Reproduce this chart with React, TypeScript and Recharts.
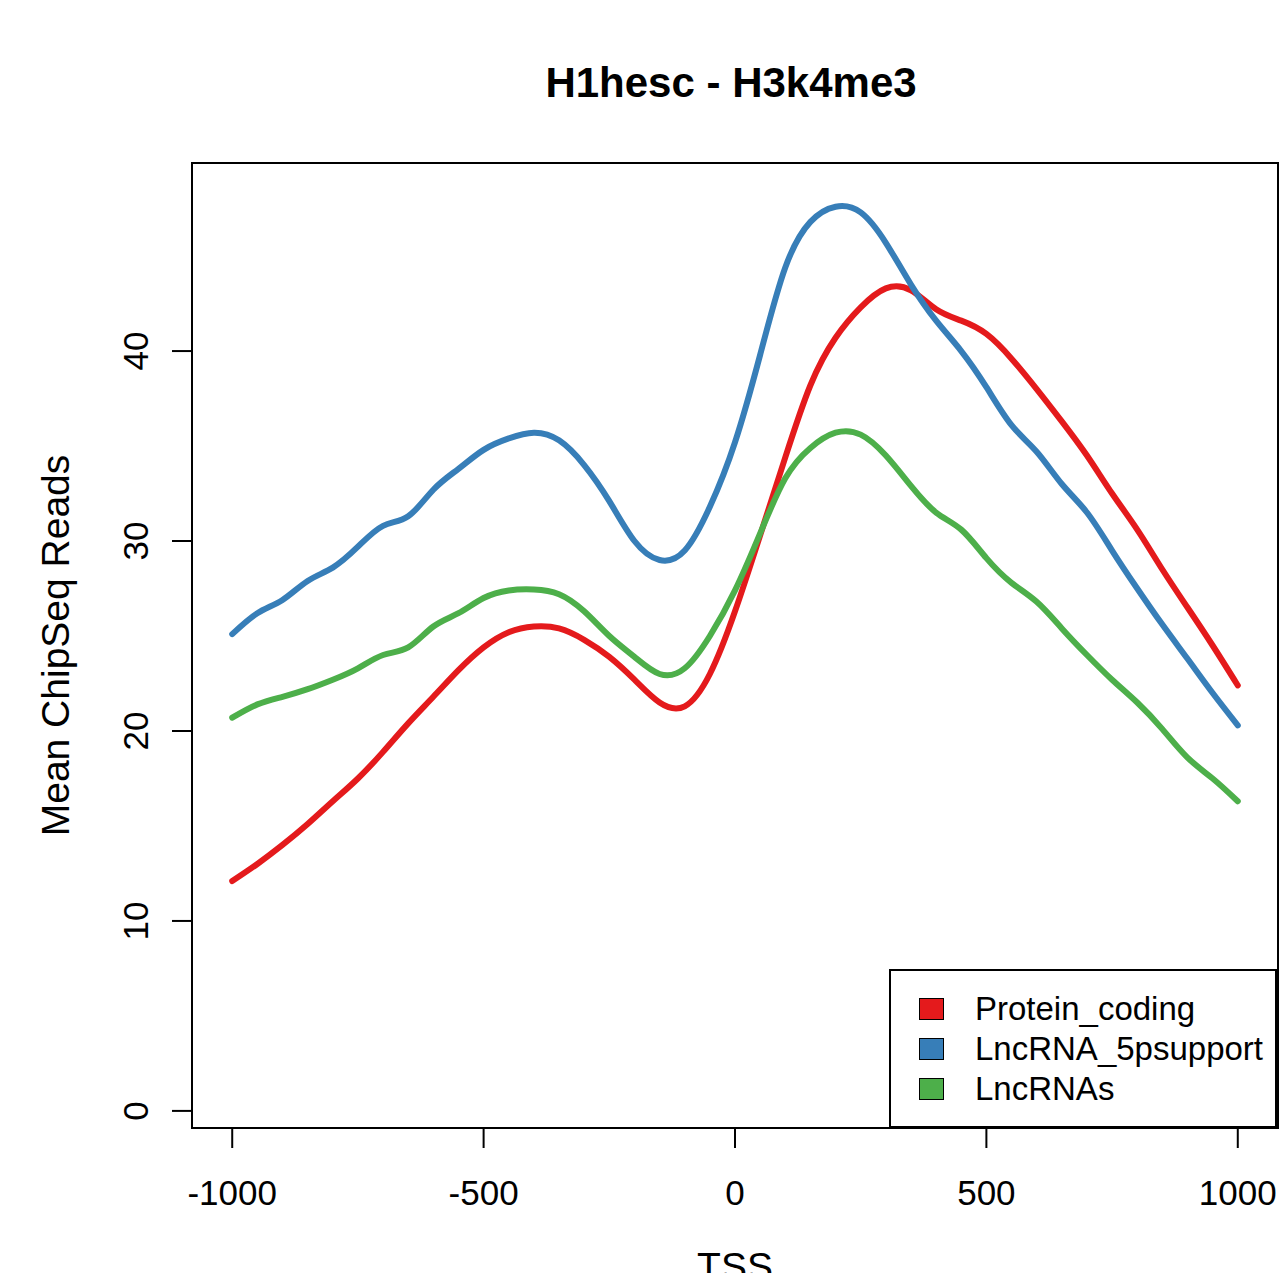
import { LineChart, Line, XAxis, YAxis, Legend, ReferenceArea, Customized } from 'recharts'

const FONT = '"Liberation Sans", Arial, Helvetica, sans-serif'

// distance to TSS (bp)
const TSS = [
  -1000, -950, -900, -850, -800, -750, -700, -650, -600, -550, -500,
  -450, -400, -350, -300, -250, -200, -150, -100, -50, 0,
  50, 100, 150, 200, 250, 300, 350, 400, 450, 500,
  550, 600, 650, 700, 750, 800, 850, 900, 950, 1000,
]

const PROTEIN_CODING = [
  12.1, 13.0, 14.0, 15.1, 16.3, 17.5, 18.9, 20.4, 21.8, 23.2, 24.4,
  25.2, 25.5, 25.4, 24.8, 23.9, 22.7, 21.5, 21.3, 23.0, 26.3,
  30.3, 34.4, 38.2, 40.7, 42.3, 43.3, 43.2, 42.2, 41.6, 40.9,
  39.6, 38.0, 36.3, 34.5, 32.5, 30.6, 28.5, 26.5, 24.5, 22.4,
]

const LNCRNA_5PSUPPORT = [
  25.1, 26.2, 26.9, 27.9, 28.6, 29.7, 30.8, 31.3, 32.7, 33.8, 34.8,
  35.4, 35.7, 35.3, 34.0, 32.1, 30.0, 29.0, 29.5, 31.8, 35.2,
  39.8, 44.4, 46.8, 47.6, 47.3, 45.7, 43.5, 41.6, 40.0, 38.1,
  36.1, 34.7, 33.0, 31.5, 29.5, 27.5, 25.6, 23.8, 22.0, 20.3,
]

const LNCRNAS = [
  20.7, 21.4, 21.8, 22.2, 22.7, 23.3, 24.0, 24.4, 25.5, 26.2, 27.0,
  27.4, 27.45, 27.2, 26.3, 25.0, 23.9, 23.0, 23.3, 25.0, 27.4,
  30.4, 33.3, 34.9, 35.7, 35.6, 34.5, 32.9, 31.5, 30.6, 29.1,
  27.8, 26.8, 25.4, 24.0, 22.7, 21.5, 20.1, 18.6, 17.5, 16.3,
]

const X_TICKS = [-1000, -500, 0, 500, 1000]
const Y_TICKS = [0, 10, 20, 30, 40]

const SERIES = [
  { key: 'protein', name: 'Protein_coding', color: '#E41A1C' },
  { key: 'lnc5p', name: 'LncRNA_5psupport', color: '#377EB8' },
  { key: 'lnc', name: 'LncRNAs', color: '#4DAF4A' },
]

const data = TSS.map((tss, i) => ({
  tss,
  protein: PROTEIN_CODING[i],
  lnc5p: LNCRNA_5PSUPPORT[i],
  lnc: LNCRNAS[i],
}))

const X_DOMAIN: [number, number] = [-1080, 1080]
const Y_DOMAIN: [number, number] = [-0.9, 49.9]

function XTick({ x, y, payload }: any) {
  return (
    <text x={x} y={y + 57} textAnchor="middle" fontSize={35} fontFamily={FONT} fill="#000">
      {payload.value}
    </text>
  )
}

function YTick({ x, y, payload }: any) {
  const bx = x - 24
  return (
    <text
      x={bx}
      y={y}
      transform={`rotate(-90 ${bx} ${y})`}
      textAnchor="middle"
      fontSize={35}
      fontFamily={FONT}
      fill="#000"
    >
      {payload.value}
    </text>
  )
}

function LegendBox() {
  return (
    <div
      style={{
        width: '100%',
        height: '100%',
        boxSizing: 'border-box',
        border: '2px solid #000',
        background: '#fff',
        paddingTop: 18,
        fontFamily: FONT,
        fontSize: 33,
        color: '#000',
      }}
    >
      {SERIES.map(s => (
        <div key={s.key} style={{ display: 'flex', alignItems: 'center', height: 40 }}>
          <span
            style={{
              display: 'inline-block',
              width: 25,
              height: 22,
              marginLeft: 28,
              marginRight: 31,
              boxSizing: 'border-box',
              border: '1.5px solid #000',
              background: s.color,
            }}
          />
          <span>{s.name}</span>
        </div>
      ))}
    </div>
  )
}

function Title() {
  return (
    <text x={731} y={97} textAnchor="middle" fontSize={42} fontWeight="bold" fontFamily={FONT} fill="#000">
      H1hesc - H3k4me3
    </text>
  )
}

export default function App() {
  return (
    <div style={{ position: 'absolute', left: 0, top: 0, background: '#fff' }}>
      <LineChart
        width={1281}
        height={1273}
        data={data}
        margin={{ top: 163, right: 3, bottom: 0, left: 0 }}
      >
        <XAxis
          dataKey="tss"
          type="number"
          domain={X_DOMAIN}
          ticks={X_TICKS}
          allowDataOverflow
          axisLine={false}
          tickSize={20}
          tickMargin={0}
          tickLine={{ stroke: '#000', strokeWidth: 2 }}
          tick={<XTick />}
          height={145}
          label={{
            content: ({ viewBox }: any) => (
              <text
                x={viewBox.x + viewBox.width / 2}
                y={1280}
                textAnchor="middle"
                fontSize={39}
                fontFamily={FONT}
                fill="#000"
              >
                TSS
              </text>
            ),
          }}
        />
        <YAxis
          type="number"
          domain={Y_DOMAIN}
          ticks={Y_TICKS}
          allowDataOverflow
          axisLine={false}
          tickSize={20}
          tickMargin={0}
          tickLine={{ stroke: '#000', strokeWidth: 2 }}
          tick={<YTick />}
          width={192}
          label={{
            content: ({ viewBox }: any) => {
              const cy = viewBox.y + viewBox.height / 2
              return (
                <text
                  x={69}
                  y={cy}
                  transform={`rotate(-90 69 ${cy})`}
                  textAnchor="middle"
                  fontSize={39}
                  fontFamily={FONT}
                  fill="#000"
                >
                  Mean ChipSeq Reads
                </text>
              )
            },
          }}
        />
        <ReferenceArea
          x1={X_DOMAIN[0]}
          x2={X_DOMAIN[1]}
          y1={Y_DOMAIN[0]}
          y2={Y_DOMAIN[1]}
          fill="none"
          stroke="#000"
          strokeWidth={2}
          ifOverflow="visible"
        />
        {SERIES.map(s => (
          <Line
            key={s.key}
            dataKey={s.key}
            name={s.name}
            type="natural"
            stroke={s.color}
            strokeWidth={6}
            strokeLinecap="round"
            dot={false}
            activeDot={false}
            isAnimationActive={false}
          />
        ))}
        <Customized component={<Title />} />
        <Legend
          layout="vertical"
          align="center"
          verticalAlign="middle"
          content={<LegendBox />}
          wrapperStyle={{ left: 889, top: 969, width: 388, height: 159 }}
        />
      </LineChart>
    </div>
  )
}
